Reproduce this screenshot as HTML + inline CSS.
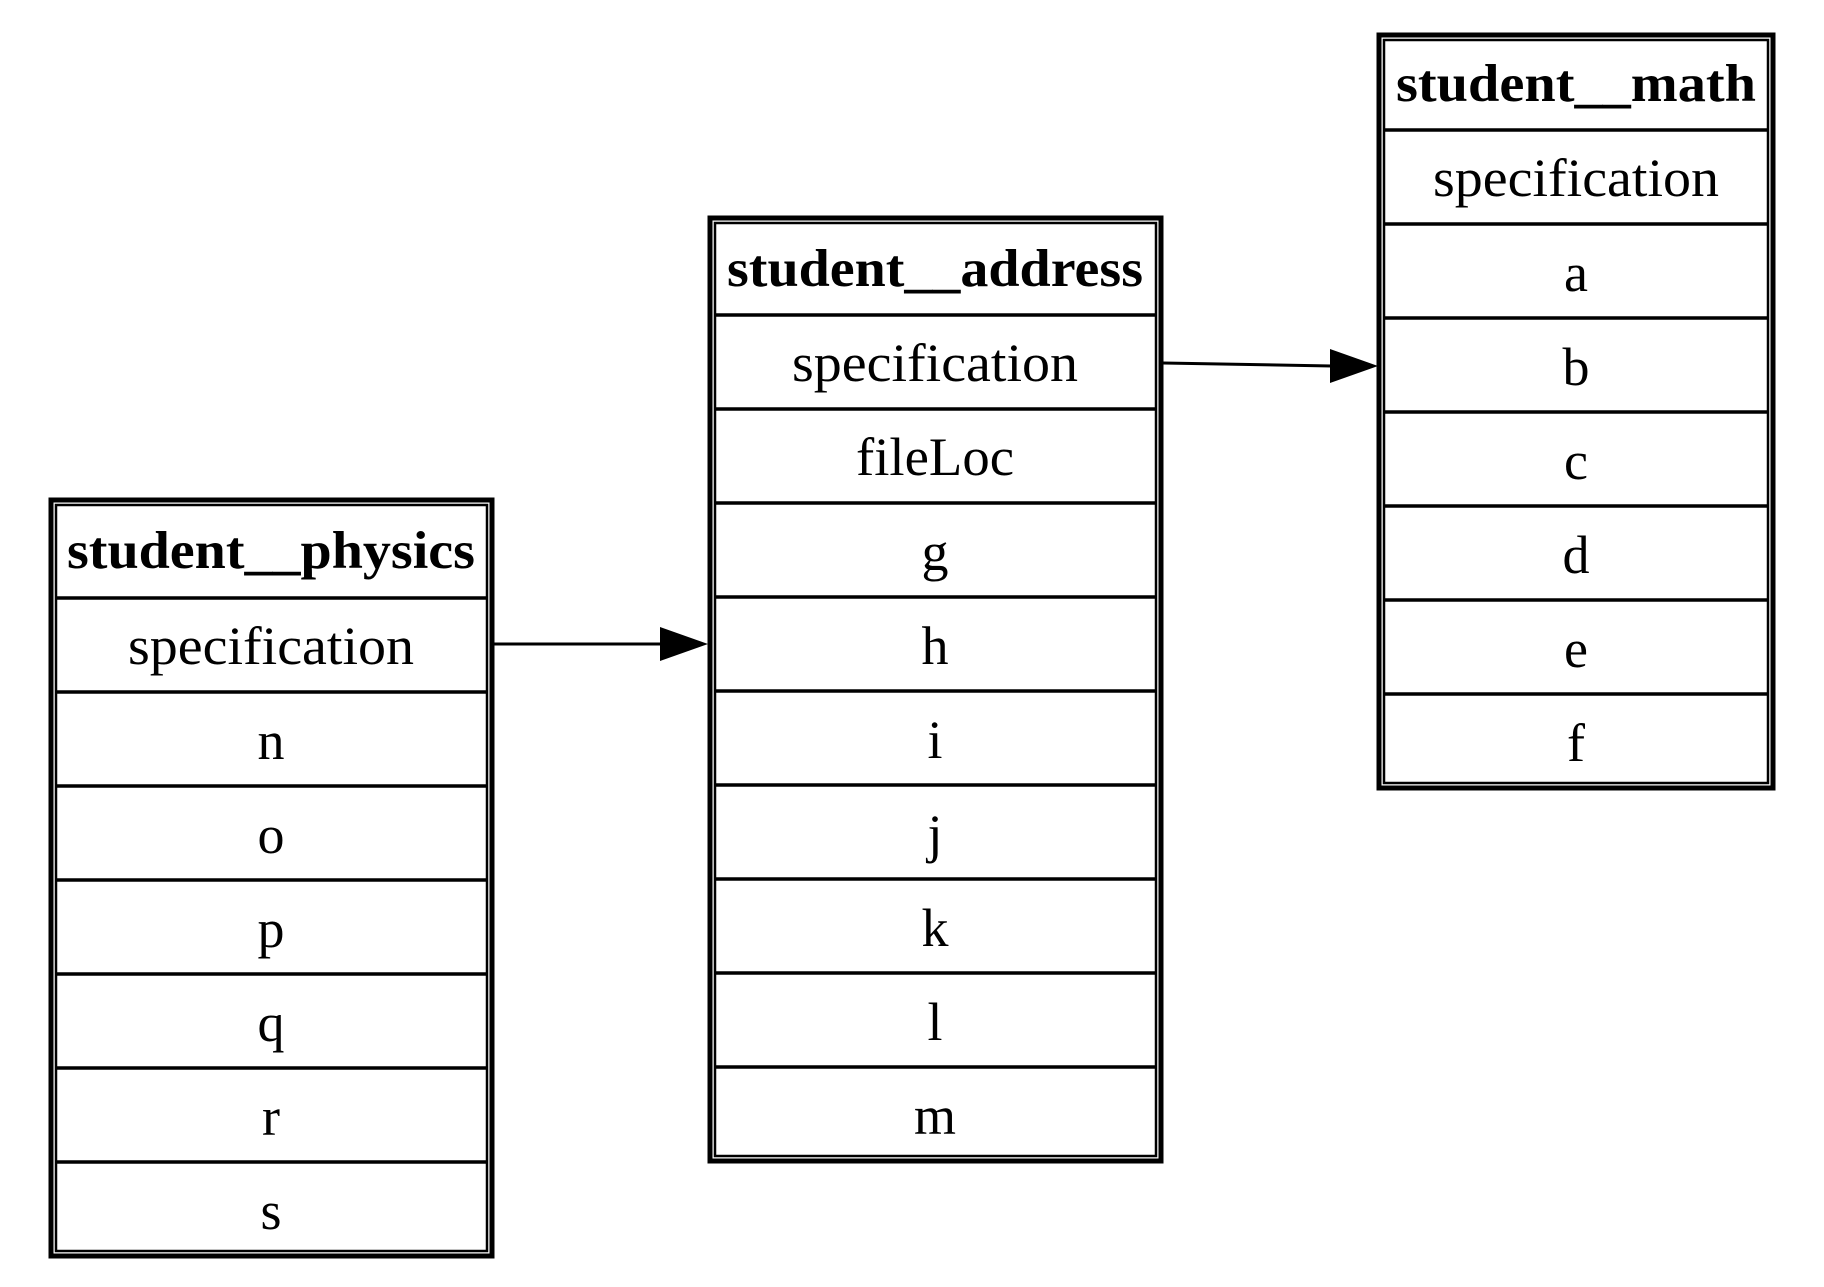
<!DOCTYPE html>
<html><head><meta charset="utf-8"><style>
html,body{margin:0;padding:0;background:#fff;}
svg{display:block;}
text{font-family:"Liberation Serif",serif;text-anchor:middle;fill:#000;}
.h{font-weight:bold;font-size:53px;}
.r{font-size:54px;}
</style></head><body>
<svg width="1824" height="1287" viewBox="0 0 1824 1287" xmlns="http://www.w3.org/2000/svg">
<g fill="none" stroke="#000">
<rect x="1379" y="35" width="394" height="753" stroke-width="5"/>
<rect x="1384" y="40" width="384" height="743" stroke-width="2.5"/>
<path d="M1384 130H1768M1384 224H1768M1384 318H1768M1384 412H1768M1384 506H1768M1384 600H1768M1384 694H1768" stroke-width="3.5"/>
<rect x="710" y="218" width="451" height="943" stroke-width="5"/>
<rect x="715" y="223" width="441" height="933" stroke-width="2.5"/>
<path d="M715 315H1156M715 409H1156M715 503H1156M715 597H1156M715 691H1156M715 785H1156M715 879H1156M715 973H1156M715 1067H1156" stroke-width="3.5"/>
<rect x="51" y="500" width="441" height="756" stroke-width="5"/>
<rect x="56" y="505" width="431" height="746" stroke-width="2.5"/>
<path d="M56 598H487M56 692H487M56 786H487M56 880H487M56 974H487M56 1068H487M56 1162H487" stroke-width="3.5"/>
<path d="M494 644H662" stroke-width="3"/>
<path d="M1163 363L1332 366" stroke-width="3"/>
</g>
<polygon points="660,627 708,644 660,661" fill="#000"/>
<polygon points="1330,349 1378,366 1330,383" fill="#000"/>

<text class="h" x="1576" y="101" textLength="360" lengthAdjust="spacingAndGlyphs">student__math</text>
<text class="r" x="1576" y="196" textLength="286" lengthAdjust="spacingAndGlyphs">specification</text>
<text class="r" x="1576" y="291">a</text>
<text class="r" x="1576" y="385">b</text>
<text class="r" x="1576" y="479">c</text>
<text class="r" x="1576" y="573">d</text>
<text class="r" x="1576" y="667">e</text>
<text class="r" x="1576" y="761">f</text>

<text class="h" x="935" y="286" textLength="416" lengthAdjust="spacingAndGlyphs">student__address</text>
<text class="r" x="935" y="381" textLength="286" lengthAdjust="spacingAndGlyphs">specification</text>
<text class="r" x="935" y="475" textLength="158" lengthAdjust="spacingAndGlyphs">fileLoc</text>
<text class="r" x="935" y="570">g</text>
<text class="r" x="935" y="664">h</text>
<text class="r" x="935" y="758">i</text>
<text class="r" x="935" y="852">j</text>
<text class="r" x="935" y="946">k</text>
<text class="r" x="935" y="1040">l</text>
<text class="r" x="935" y="1134">m</text>

<text class="h" x="271" y="568" textLength="408" lengthAdjust="spacingAndGlyphs">student__physics</text>
<text class="r" x="271" y="664" textLength="286" lengthAdjust="spacingAndGlyphs">specification</text>
<text class="r" x="271" y="759">n</text>
<text class="r" x="271" y="853">o</text>
<text class="r" x="271" y="947">p</text>
<text class="r" x="271" y="1041">q</text>
<text class="r" x="271" y="1135">r</text>
<text class="r" x="271" y="1229">s</text>
</svg>
</body></html>
